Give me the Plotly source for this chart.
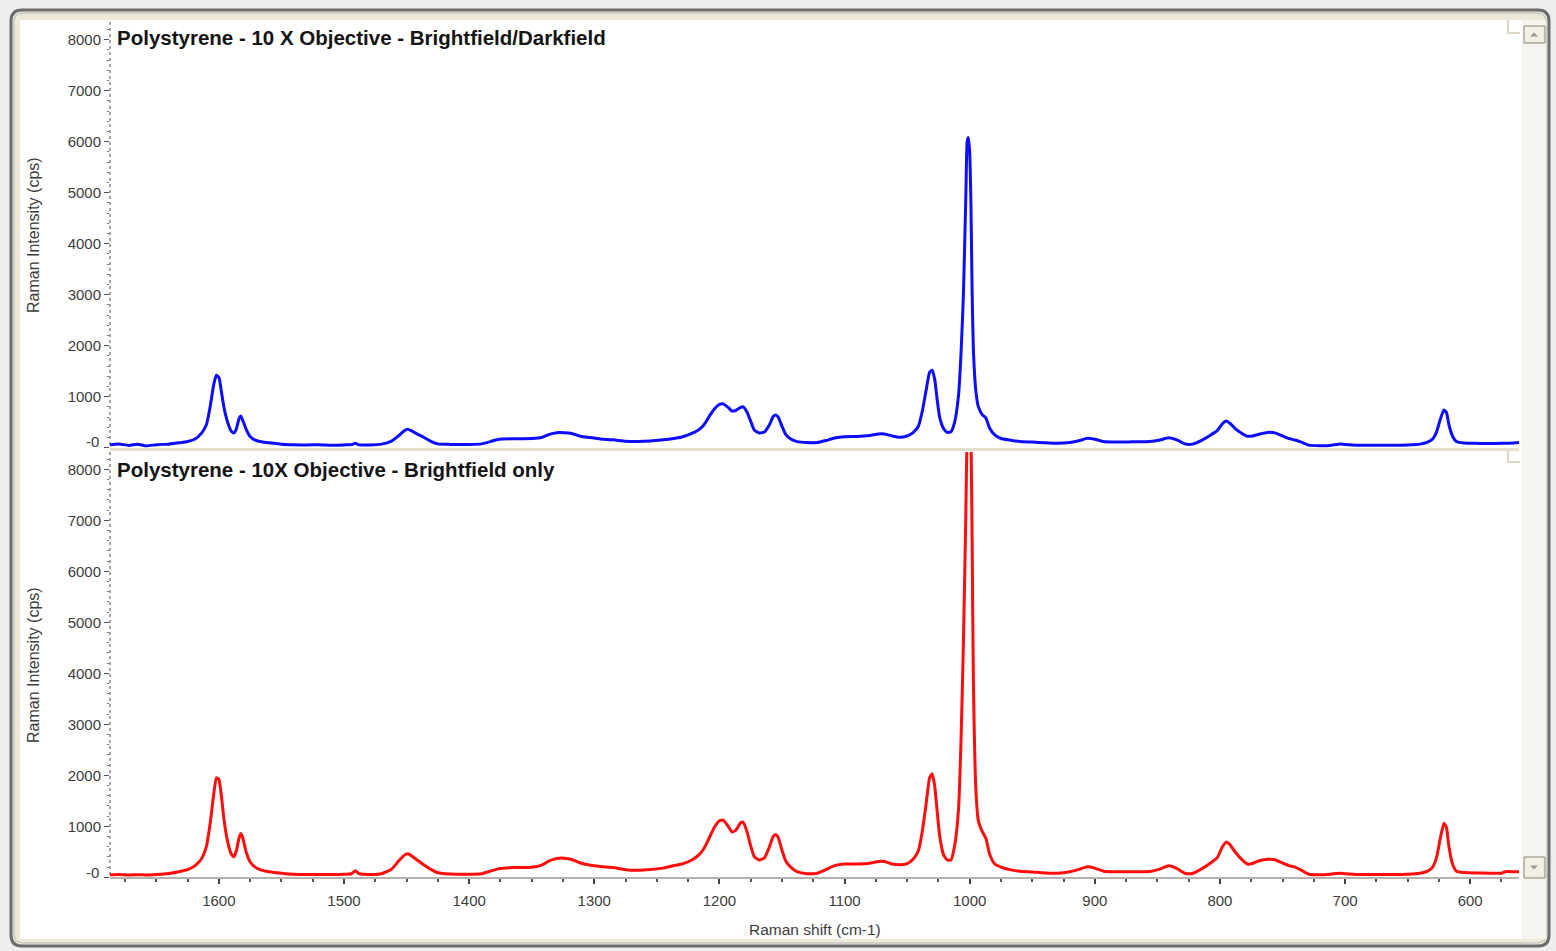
import plotly.graph_objects as go

W, H = 1556, 951


def fx(px):
    return px / W


def fy(py):
    return 1 - py / H


# ---------------- data ----------------
raman_shift = [
    1687, 1680, 1672, 1665, 1658, 1650, 1640, 1632, 1625, 1619, 1614, 1610, 1607, 1604, 1602, 1600,
    1598, 1596, 1593, 1590, 1588, 1586, 1584, 1582.5, 1581, 1578, 1575, 1571, 1566, 1560, 1550, 1540,
    1530, 1520, 1510, 1500, 1494, 1491, 1488, 1480, 1470, 1462, 1456, 1452, 1449, 1446, 1441, 1436,
    1431, 1425, 1415, 1400, 1390, 1383, 1376, 1365, 1350, 1342, 1336, 1330, 1324, 1318, 1311, 1304,
    1295, 1285, 1275, 1265, 1255, 1245, 1238, 1230, 1222, 1216, 1212, 1208, 1204, 1200, 1197, 1193,
    1190, 1187, 1183, 1181, 1178, 1175, 1172, 1168, 1164, 1160, 1157, 1155, 1153, 1150, 1147, 1143,
    1138, 1130, 1122, 1115, 1108, 1100, 1090, 1080, 1073, 1068, 1062, 1056, 1050, 1045, 1041, 1038,
    1035, 1032, 1030, 1028, 1026, 1024, 1021, 1018, 1015, 1012, 1009, 1007, 1005, 1003, 1002, 1001,
    1000, 999, 998, 997, 995, 993, 990, 987, 984, 980, 975, 968, 960, 950, 940, 930,
    920, 912, 906, 900, 893, 885, 870, 856, 848, 841, 835, 828, 822, 815, 808, 802,
    798, 795, 792, 788, 783, 778, 774, 768, 762, 756, 750, 745, 740, 735, 729, 720,
    712, 705, 700, 690, 680, 665, 650, 640, 634, 630, 627, 624, 621, 619, 617, 614,
    611, 605, 595, 585, 575, 572, 565, 561,
]

intensity_brightfield_darkfield = [
    60, 75, 45, 70, 35, 60, 70, 95, 120, 170, 280, 450, 800, 1250, 1420, 1380,
    1100, 800, 500, 320, 290, 370, 560, 620, 540, 350, 220, 150, 115, 95, 70, 60,
    55, 60, 50, 55, 60, 85, 55, 55, 70, 130, 240, 330, 360, 330, 260, 200,
    130, 75, 65, 65, 75, 120, 165, 175, 180, 200, 260, 295, 295, 280, 225, 200,
    170, 155, 125, 120, 130, 155, 175, 210, 280, 360, 460, 620, 760, 850, 860, 790,
    720, 730, 790, 800, 700, 520, 340, 290, 310, 450, 610, 640, 600, 420, 260, 170,
    120, 100, 100, 140, 190, 215, 220, 240, 270, 270, 230, 205, 230, 300, 420, 700,
    1100, 1480, 1520, 1350, 950, 600, 380, 300, 310, 500, 1000, 1800, 3000, 5000, 6000, 6080,
    5800, 4800, 3000, 1900, 1100, 800, 650, 580, 380, 250, 180, 150, 120, 110, 95, 85,
    100, 140, 185, 165, 120, 110, 115, 120, 150, 195, 160, 75, 70, 140, 240, 340,
    470, 525, 480, 380, 290, 225, 230, 270, 300, 290, 230, 180, 150, 110, 50, 40,
    45, 70, 65, 50, 50, 50, 55, 70, 110, 170, 300, 550, 740, 690, 450, 220,
    120, 90, 85, 80, 85, 88, 90, 100,
]

intensity_brightfield_only = [
    50, 55, 45, 50, 45, 55, 75, 110, 150, 230, 360, 600, 1050, 1650, 1950, 1920,
    1600, 1150, 700, 450, 400, 520, 760, 860, 780, 480, 300, 200, 140, 110, 80, 60,
    55, 55, 55, 60, 70, 130, 70, 55, 70, 160, 330, 430, 460, 420, 330, 240,
    160, 90, 65, 60, 70, 120, 170, 190, 195, 240, 320, 370, 375, 350, 280, 240,
    210, 190, 150, 140, 155, 180, 220, 260, 340, 450, 580, 780, 980, 1110, 1120, 1000,
    890, 920, 1070, 1080, 900, 620, 400, 340, 380, 600, 800, 840, 780, 530, 320, 200,
    110, 70, 80, 150, 230, 260, 260, 275, 310, 310, 260, 245, 270, 360, 520, 880,
    1400, 1950, 2030, 1800, 1300, 820, 450, 340, 340, 620, 1300, 2600, 4600, 7200, 8800, 9200,
    9200, 8700, 6500, 3800, 1700, 1100, 900, 760, 450, 260, 200, 150, 120, 105, 85, 80,
    110, 160, 205, 180, 120, 110, 110, 115, 160, 225, 180, 80, 75, 160, 270, 390,
    600, 690, 640, 500, 360, 260, 270, 330, 355, 345, 280, 230, 200, 140, 60, 50,
    60, 80, 70, 55, 55, 55, 60, 80, 120, 200, 380, 750, 1060, 980, 600, 250,
    120, 95, 85, 80, 80, 110, 110, 110,
]

panel_titles = [
    "Polystyrene - 10 X Objective - Brightfield/Darkfield",
    "Polystyrene - 10X Objective - Brightfield only",
]
y_tick_values = [0, 1000, 2000, 3000, 4000, 5000, 6000, 7000, 8000]
y_tick_labels = ["", "1000", "2000", "3000", "4000", "5000", "6000", "7000", "8000"]
y_zero_label = "-0"
x_tick_values = [1600, 1500, 1400, 1300, 1200, 1100, 1000, 900, 800, 700, 600]
x_tick_labels = ["1600", "1500", "1400", "1300", "1200", "1100", "1000", "900", "800", "700", "600"]
x_title = "Raman shift (cm-1)"
y_title = "Raman Intensity (cps)"
x_range = [1687, 561]

# ---------------- figure ----------------
FONT = "Liberation Sans, Arial, sans-serif"
TICK_FONT = dict(family=FONT, size=15, color="#3c3c3c")

fig = go.Figure()
fig.add_trace(go.Scatter(
    x=raman_shift, y=intensity_brightfield_darkfield, mode="lines",
    line=dict(color="#0c0cff", width=3, shape="spline", smoothing=0.5),
    xaxis="x", yaxis="y", showlegend=False,
))
fig.add_trace(go.Scatter(
    x=raman_shift, y=intensity_brightfield_only, mode="lines",
    line=dict(color="#ff0c0c", width=3, shape="spline", smoothing=0.5),
    xaxis="x2", yaxis="y2", showlegend=False,
))

x_dom = [fx(110), fx(1519)]
top_bottom_px, top_top_px = 447.7, 22
bot_bottom_px, bot_top_px = 877.3, 452
px_per_unit = 51 / 1000

yaxis_common = dict(
    showline=False, showgrid=False, zeroline=False,
    tickmode="array", tickvals=y_tick_values, ticktext=y_tick_labels,
    ticks="outside", ticklen=5, tickwidth=1, tickcolor="#505050",
    minor=dict(dtick=200, tick0=0, ticks="outside", ticklen=2, tickwidth=1, tickcolor="#707070"),
    tickfont=TICK_FONT, automargin=False,
)

fig.update_layout(
    template="none",
    width=W, height=H,
    margin=dict(l=0, r=0, t=0, b=0),
    paper_bgcolor="#eeeeee",
    plot_bgcolor="rgba(0,0,0,0)",
    showlegend=False,
    xaxis=dict(
        domain=x_dom, anchor="y", range=x_range, showgrid=False, zeroline=False,
        showline=True, linecolor="#e4e0cc", linewidth=3, ticks="", showticklabels=False,
        automargin=False,
    ),
    yaxis=dict(domain=[fy(top_bottom_px), fy(top_top_px)], anchor="x",
               range=[0, (top_bottom_px - top_top_px) / px_per_unit], **yaxis_common),
    xaxis2=dict(
        domain=x_dom, anchor="y2", range=x_range, showgrid=False, zeroline=False,
        showline=True, linecolor="#b4b2aa", linewidth=1.5,
        tickmode="array", tickvals=x_tick_values, ticktext=x_tick_labels,
        ticks="outside", ticklen=5, tickwidth=1.5, tickcolor="#404040",
        minor=dict(dtick=25, tick0=600, ticks="outside", ticklen=3, tickwidth=1.5, tickcolor="#505050"),
        tickfont=TICK_FONT, ticklabelstandoff=4, automargin=False,
    ),
    yaxis2=dict(domain=[fy(bot_bottom_px), fy(bot_top_px)], anchor="x2",
                range=[0, (bot_bottom_px - bot_top_px) / px_per_unit], **yaxis_common),
)

# ---------------- window chrome (shapes) ----------------
def rounded_rect(x0, y0, x1, y1, r):
    return (
        f"M {fx(x0 + r)},{fy(y0)} L {fx(x1 - r)},{fy(y0)} "
        f"Q {fx(x1)},{fy(y0)} {fx(x1)},{fy(y0 + r)} "
        f"L {fx(x1)},{fy(y1 - r)} Q {fx(x1)},{fy(y1)} {fx(x1 - r)},{fy(y1)} "
        f"L {fx(x0 + r)},{fy(y1)} Q {fx(x0)},{fy(y1)} {fx(x0)},{fy(y1 - r)} "
        f"L {fx(x0)},{fy(y0 + r)} Q {fx(x0)},{fy(y0)} {fx(x0 + r)},{fy(y0)} Z"
    )


shapes = []
shapes.append(dict(type="path", xref="paper", yref="paper", layer="below",
                   path=rounded_rect(11, 10, 1549, 946, 11),
                   fillcolor="#ece9d8", line=dict(color="#6c6c6c", width=3)))
shapes.append(dict(type="path", xref="paper", yref="paper", layer="below",
                   path=rounded_rect(14, 13, 1546, 943, 9),
                   fillcolor="rgba(0,0,0,0)", line=dict(color="#b8b8b8", width=1)))
shapes.append(dict(type="rect", xref="paper", yref="paper", layer="below",
                   x0=fx(20), x1=fx(1522), y0=fy(939), y1=fy(20),
                   fillcolor="#ffffff", line=dict(width=0)))
# scrollbar strip
shapes.append(dict(type="rect", xref="paper", yref="paper", layer="below",
                   x0=fx(1522), x1=fx(1546), y0=fy(939), y1=fy(20),
                   fillcolor="#f5f4ee", line=dict(width=0)))
# scroll buttons
for (by0, by1, up) in [(26, 43, True), (857, 878, False)]:
    shapes.append(dict(type="rect", xref="paper", yref="paper", layer="below",
                       x0=fx(1524), x1=fx(1545), y0=fy(by1), y1=fy(by0),
                       fillcolor="#ece9d8", line=dict(color="#8a887c", width=1)))
    shapes.append(dict(type="rect", xref="paper", yref="paper", layer="below",
                       x0=fx(1525), x1=fx(1543), y0=fy(by1 - 2), y1=fy(by0 + 1),
                       fillcolor="#f3f1e6", line=dict(width=0)))
    cx, cy = 1534, (by0 + by1) / 2
    if up:
        tri = f"M {fx(cx - 4)},{fy(cy + 2)} L {fx(cx + 4)},{fy(cy + 2)} L {fx(cx)},{fy(cy - 2)} Z"
    else:
        tri = f"M {fx(cx - 4)},{fy(cy - 2)} L {fx(cx + 4)},{fy(cy - 2)} L {fx(cx)},{fy(cy + 2)} Z"
    shapes.append(dict(type="path", xref="paper", yref="paper", layer="below", path=tri,
                       fillcolor="#9c9a90", line=dict(width=0)))
# corner brackets
for (ya, yb) in [(20, 33), (450, 462)]:
    shapes.append(dict(type="path", xref="paper", yref="paper", layer="below",
                       path=f"M {fx(1508)},{fy(ya)} L {fx(1508)},{fy(yb)} L {fx(1520)},{fy(yb)}",
                       line=dict(color="#dcd8c4", width=2)))
# dotted y-axis lines
for (ya, yb) in [(top_top_px, top_bottom_px), (bot_top_px, bot_bottom_px)]:
    shapes.append(dict(type="line", xref="paper", yref="paper", layer="below",
                       x0=fx(110), x1=fx(110), y0=fy(ya), y1=fy(yb),
                       line=dict(color="#6a6a6a", width=1.2, dash="dot")))
fig.update_layout(shapes=shapes)

# ---------------- text ----------------
ann = []
for title, ypx in zip(panel_titles, [38, 469]):
    ann.append(dict(text=f"<b>{title}</b>", xref="paper", yref="paper",
                    x=fx(115), y=fy(ypx), xanchor="left", yanchor="middle", showarrow=False,
                    font=dict(family=FONT, size=20.5, color="#141414")))
for ypx in [441, 872]:
    ann.append(dict(text=y_zero_label, xref="paper", yref="paper",
                    x=fx(101), y=fy(ypx), xanchor="right", yanchor="middle", showarrow=False,
                    font=TICK_FONT))
for ypx in [235, 665]:
    ann.append(dict(text=y_title, xref="paper", yref="paper", textangle=-90,
                    x=fx(33), y=fy(ypx), xanchor="center", yanchor="middle", showarrow=False,
                    font=dict(family=FONT, size=16, color="#3c3c3c")))
ann.append(dict(text=x_title, xref="paper", yref="paper",
                x=fx(815), y=fy(929), xanchor="center", yanchor="middle", showarrow=False,
                font=dict(family=FONT, size=15.5, color="#3c3c3c")))
fig.update_layout(annotations=ann)

fig.write_html(
    "out.html",
    config={"displayModeBar": False},
    post_script="document.body.style.margin='0px';document.body.style.overflow='hidden';",
)
